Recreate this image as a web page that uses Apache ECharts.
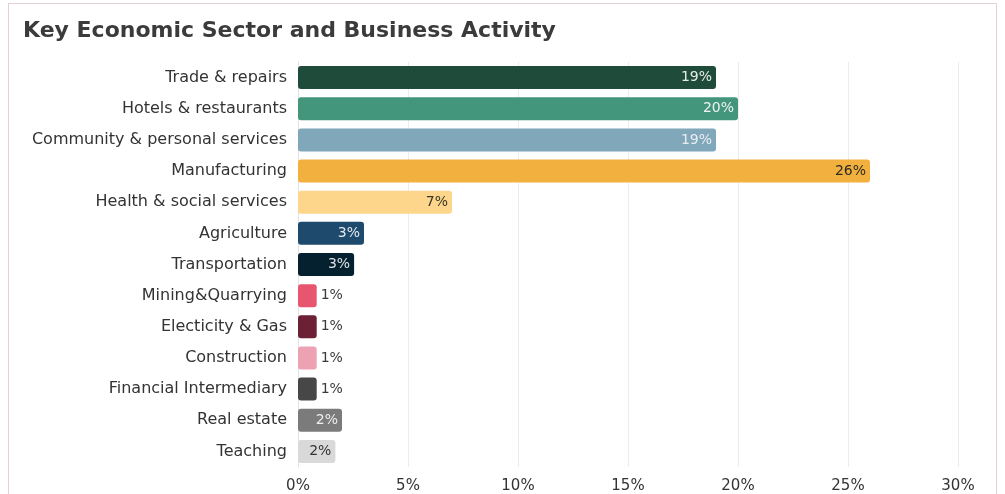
<!DOCTYPE html>
<html>
<head>
<meta charset="utf-8">
<script src="https://cdn.jsdelivr.net/npm/echarts@6/dist/echarts.min.js"></script>
<style>
  html, body { margin: 0; padding: 0; background: #fff; }
  #chart { width: 1005px; height: 494px; }
  #frame {
    position: absolute; left: 8px; top: 3px; width: 989px; height: 520px;
    border: 1px solid #e6d0d6; pointer-events: none; box-sizing: border-box;
  }
</style>
</head>
<body>
<div id="chart"></div>
<div id="frame"></div>
<script>
// Share of business activity by sector (%)
const categories = [
  'Trade & repairs', 'Hotels & restaurants', 'Community & personal services',
  'Manufacturing', 'Health & social services', 'Agriculture', 'Transportation',
  'Mining&Quarrying', 'Electicity & Gas', 'Construction', 'Financial Intermediary',
  'Real estate', 'Teaching'
];
const shares = [19, 20, 19, 26, 7, 3, 2.55, 0.85, 0.85, 0.85, 0.85, 2, 1.7];
const xTicks = [0, 5, 10, 15, 20, 25, 30];

// Bar fills and label inks, one per sector
const fills = [
  '#1f4b3b', '#43957b', '#80a7ba', '#f2b13f', '#fed68b', '#1e4b6d', '#05212f',
  '#e8556f', '#6b2035', '#eda2b4', '#474747', '#7b7b7b', '#d9d9d9'
];
const inks = [
  '#e8ece9', '#eef3f1', '#e9eef2', '#2e2a22', '#3a352a', '#e3e9ef', '#dce3e7',
  '#3a3a3a', '#3a3a3a', '#3a3a3a', '#3a3a3a', '#eeeeee', '#333333'
];

const FONT = '"DejaVu Sans", sans-serif';

const barData = shares.map((v, i) => {
  const outside = v < 1.5;
  return {
    value: v,
    itemStyle: { color: fills[i], borderRadius: 3 },
    label: {
      show: true,
      position: outside ? 'right' : 'insideRight',
      distance: 4,
      color: outside ? '#3a3a3a' : inks[i]
    }
  };
});

const chart = echarts.init(document.getElementById('chart'), null, { renderer: 'canvas' });
chart.setOption({
  animation: false,
  backgroundColor: '#fff',
  title: {
    text: 'Key Economic Sector and Business Activity',
    left: 18, top: 15,
    textStyle: { fontFamily: FONT, fontWeight: 'bold', fontSize: 22, color: '#3b3b3b' }
  },
  grid: { left: 298, right: 47, top: 62, bottom: 26, containLabel: false },
  xAxis: {
    type: 'value', min: xTicks[0], max: xTicks[xTicks.length - 1], interval: 5,
    axisLine: { show: false }, axisTick: { show: false },
    splitLine: { show: true, lineStyle: { color: '#ececec', width: 1 } },
    axisLabel: {
      formatter: v => v + '%', margin: 12,
      fontFamily: FONT, fontSize: 15, color: '#333'
    }
  },
  yAxis: {
    type: 'category', data: categories, inverse: true,
    axisLine: { show: true, lineStyle: { color: '#e2e2e2' } },
    axisTick: { show: false },
    axisLabel: { margin: 11, fontFamily: FONT, fontSize: 16, color: '#333' }
  },
  series: [{
    type: 'bar',
    data: barData,
    barWidth: 23,
    label: {
      fontFamily: FONT, fontSize: 14,
      formatter: p => Math.round(p.value) + '%'
    }
  }]
});
</script>
</body>
</html>
